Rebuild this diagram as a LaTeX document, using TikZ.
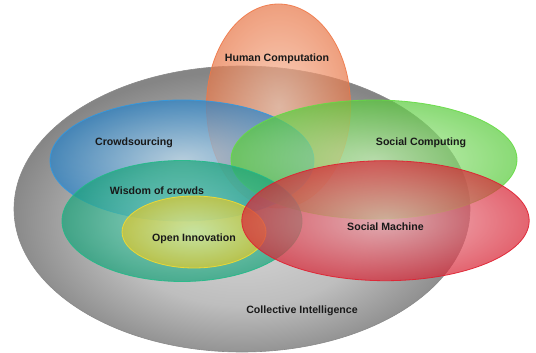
\documentclass[tikz,border=0pt]{standalone}
\usepackage{fontspec}
\setmainfont{Liberation Sans}
\definecolor{grayIn}{HTML}{D6D6D6}
\definecolor{grayMid}{HTML}{BEBEBE}
\definecolor{grayOut}{HTML}{858585}
\definecolor{grayEdge}{HTML}{8A8A8A}
\definecolor{orIn}{HTML}{F8C0A4}
\definecolor{orOut}{HTML}{E87A4C}
\definecolor{orEdge}{HTML}{F07848}
\definecolor{blIn}{HTML}{B4D4E8}
\definecolor{blOut}{HTML}{2C84C8}
\definecolor{blEdge}{HTML}{3399E0}
\definecolor{grIn}{HTML}{BCEEAA}
\definecolor{grOut}{HTML}{5CCC40}
\definecolor{grEdge}{HTML}{66DD44}
\definecolor{tlIn}{HTML}{78D4BC}
\definecolor{tlOut}{HTML}{1CA47C}
\definecolor{tlEdge}{HTML}{22BB88}
\definecolor{ylIn}{HTML}{E0EC98}
\definecolor{ylOut}{HTML}{DCC830}
\definecolor{ylEdge}{HTML}{F4DC30}
\definecolor{rdIn}{HTML}{F0A8B0}
\definecolor{rdOut}{HTML}{D82838}
\definecolor{rdEdge}{HTML}{E02030}
\pgfdeclareradialshading{grayshade}{\pgfpoint{0bp}{-4bp}}{color(0bp)=(grayIn); color(14bp)=(grayMid); color(26bp)=(grayOut); color(50bp)=(grayOut)}
\tikzset{
  blob/.style n args={3}{shade, inner color=#1, outer color=#2, draw=#3,
    line width=0.8pt, fill opacity=0.72, draw opacity=0.9},
  lab/.style={font=\bfseries\fontsize{10.6}{12}\selectfont, text=black!90, inner sep=0pt}
}
\begin{document}
\begin{tikzpicture}[x=1pt,y=-1pt]
\useasboundingbox (0,0) rectangle (536,353);
% Collective Intelligence
\path[shade, shading=grayshade, draw=grayEdge, line width=0.6pt]
  (242,209) ellipse [x radius=228pt, y radius=143pt];
% Human Computation
\path[blob={orIn}{orOut}{orEdge}] (278.5,106) ellipse [x radius=72pt, y radius=102pt];
% Crowdsourcing
\path[blob={blIn}{blOut}{blEdge}] (182,160.5) ellipse [x radius=132pt, y radius=60.5pt];
% Social Computing
\path[blob={grIn}{grOut}{grEdge}] (374,159.5) ellipse [x radius=143pt, y radius=59.5pt];
% Wisdom of crowds
\path[blob={tlIn}{tlOut}{tlEdge}] (182,221) ellipse [x radius=120pt, y radius=60.5pt];
% Open Innovation
\path[blob={ylIn}{ylOut}{ylEdge}] (194,232) ellipse [x radius=72pt, y radius=36pt];
% Social Machine
\path[blob={rdIn}{rdOut}{rdEdge}] (385.5,220.7) ellipse [x radius=143.7pt, y radius=60pt];
% labels
\node[lab] (hc) at (277,58.5) {Human Computation};
\node[lab] (cs) at (134,143) {Crowdsourcing};
\node[lab] (sc) at (421,142.5) {Social Computing};
\node[lab] (wc) at (157,190.5) {Wisdom of crowds};
\node[lab] (oi) at (194,238.5) {Open Innovation};
\node[lab] (sm) at (385.5,226.5) {Social Machine};
\node[lab] (ci) at (302,310.5) {Collective Intelligence};
\end{tikzpicture}
\end{document}
